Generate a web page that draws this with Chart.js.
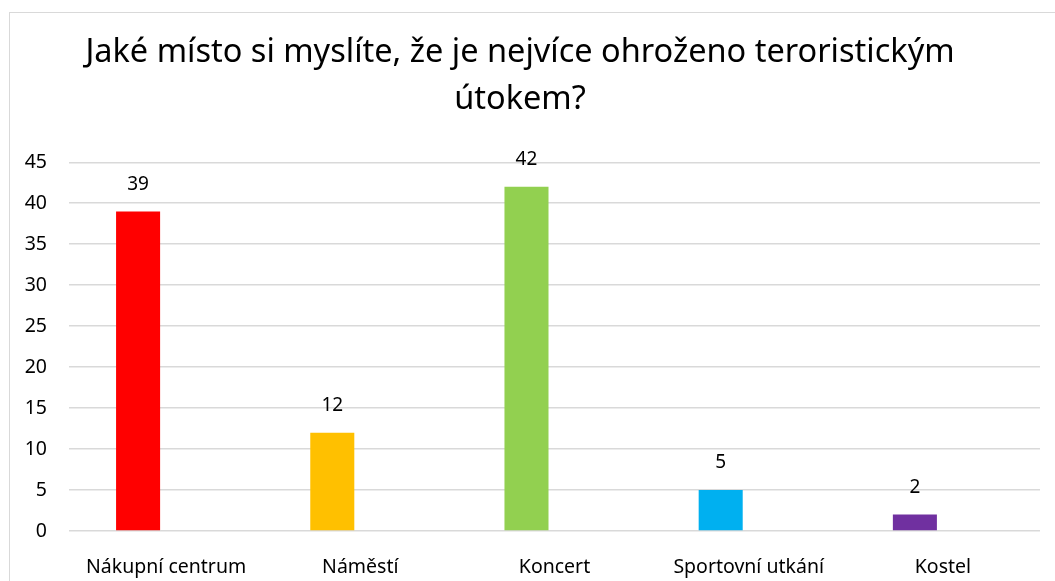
<!DOCTYPE html>
<html>
<head>
<meta charset="utf-8">
<script src="https://cdn.jsdelivr.net/npm/chart.js@4/dist/chart.umd.min.js"></script>
<style>
  html, body { margin:0; padding:0; background:#fff; overflow:hidden; }
  #wrap { position:relative; width:1055px; height:581px; }
  #frame { position:absolute; left:9px; top:12px; width:1060px; height:600px; border:1.5px solid #d9d9d9; box-sizing:border-box; }
  canvas { position:absolute; left:0; top:0; }
</style>
</head>
<body>
<div id="wrap">
  <div id="frame"></div>
  <canvas id="chart" width="1055" height="581"></canvas>
</div>
<script>
// ---------------- Data ----------------
const titleLines = ["Jaké místo si myslíte, že je nejvíce ohroženo teroristickým", "útokem?"];
const categories = ["Nákupní centrum", "Náměstí", "Koncert", "Sportovní utkání", "Kostel"];
const answers = [39, 12, 42, 5, 2];
const barColors = ["#ff0000", "#ffc000", "#92d050", "#00b0f0", "#7030a0"];
const yTicks = { min: 0, max: 45, step: 5 };

const FONT = "'Noto Sans', 'Open Sans', sans-serif";

// value labels above the bars
const valueLabels = {
  id: "valueLabels",
  afterDatasetsDraw(chart){
    const ctx = chart.ctx;
    const meta = chart.getDatasetMeta(0);
    ctx.save();
    ctx.font = "19px " + FONT;
    ctx.fillStyle = "#000";
    ctx.textAlign = "center";
    ctx.textBaseline = "middle";
    meta.data.forEach((bar, i) => {
      ctx.fillText(String(answers[i]), bar.x, bar.y - 27);
    });
    ctx.restore();
  }
};

new Chart(document.getElementById("chart"), {
  type: "bar",
  data: {
    labels: categories,
    datasets: [
      { data: answers, backgroundColor: barColors, categoryPercentage: 0.577, barPercentage: 0.786 },
      { data: categories.map(() => null), backgroundColor: "transparent", categoryPercentage: 0.577, barPercentage: 0.786 }
    ]
  },
  options: {
    responsive: false,
    animation: false,
    layout: { padding: { left: 0, right: 15, top: 0, bottom: 0 } },
    plugins: {
      legend: { display: false },
      tooltip: { enabled: false },
      title: {
        display: true,
        text: titleLines,
        color: "#000",
        font: { family: FONT, size: 32.5, weight: "normal", lineHeight: 1.45 },
        padding: { top: 29, bottom: 39 }
      }
    },
    scales: {
      x: {
        grid: { display: false, drawTicks: false },
        border: { display: false },
        ticks: { color: "#000", font: { family: FONT, size: 19.5 }, padding: 25, maxRotation: 0 },
        afterFit(scale){ scale.height = 50; }
      },
      y: {
        min: yTicks.min,
        max: yTicks.max,
        ticks: { stepSize: yTicks.step, color: "#000", font: { family: FONT, size: 19.5 }, padding: 22 },
        grid: { color: "#d9d9d9", lineWidth: 1.5, drawTicks: false },
        border: { display: false },
        afterFit(scale){ scale.width = 69; }
      }
    }
  },
  plugins: [valueLabels]
});
</script>
</body>
</html>
